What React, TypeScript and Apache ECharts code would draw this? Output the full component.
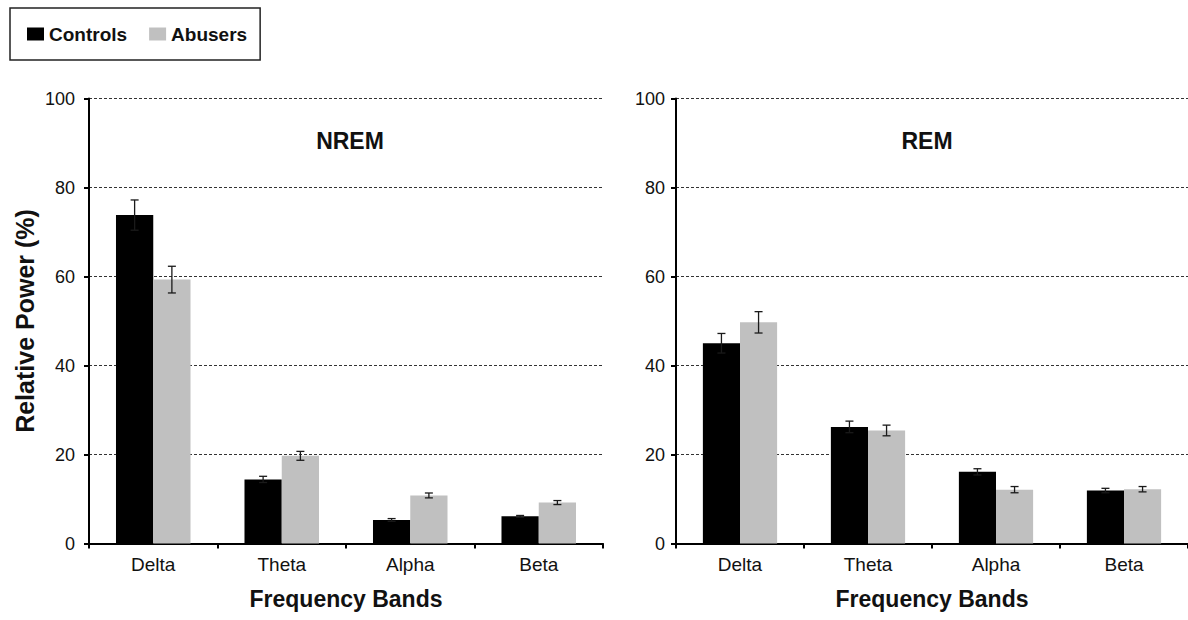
import React, { useEffect, useRef } from "react";
import * as echarts from "echarts";

const categories = ["Delta", "Theta", "Alpha", "Beta"];
const seriesNames = ["Controls", "Abusers"];

const nremControls = [73.8, 14.4, 5.3, 6.1];
const nremControlsErr = [3.4, 0.7, 0.3, 0.2];
const nremAbusers = [59.3, 19.7, 10.8, 9.2];
const nremAbusersErr = [3.0, 1.0, 0.55, 0.45];

const remControls = [45.0, 26.2, 16.1, 11.9];
const remControlsErr = [2.2, 1.3, 0.7, 0.5];
const remAbusers = [49.7, 25.4, 12.1, 12.2];
const remAbusersErr = [2.4, 1.2, 0.7, 0.6];

const panelTitles = ["NREM", "REM"];
const xAxisTitle = "Frequency Bands";
const yAxisTitle = "Relative Power (%)";
const yMin = 0;
const yMax = 100;
const yInterval = 20;

const BAR_FRAC = 0.29;
const COLORS = ["#000000", "#c0c0c0"];
const FONT = "'Liberation Sans', Arial, sans-serif";

function errData(vals: number[], errs: number[]) {
  return vals.map((v, i) => [i, v, errs[i]]);
}

function makeErrSeries(name: string, idx: number, vals: number[], errs: number[], side: number) {
  return {
    type: "custom",
    name: name + " SE",
    xAxisIndex: idx,
    yAxisIndex: idx,
    z: 10,
    silent: true,
    encode: { x: 0, y: 1 },
    data: errData(vals, errs),
    renderItem: (params: any, api: any) => {
      const c = api.value(0);
      const v = api.value(1);
      const e = api.value(2);
      const band = api.size([1, 0])[0];
      const off = side * (BAR_FRAC / 2) * band;
      const top = api.coord([c, v + e]);
      const bot = api.coord([c, v - e]);
      const x = top[0] + off;
      const cap = 4;
      const style = { stroke: "#1a1a1a", lineWidth: 1.3 };
      return {
        type: "group",
        children: [
          { type: "line", shape: { x1: x, y1: top[1], x2: x, y2: bot[1] }, style },
          { type: "line", shape: { x1: x - cap, y1: top[1], x2: x + cap, y2: top[1] }, style },
          { type: "line", shape: { x1: x - cap, y1: bot[1], x2: x + cap, y2: bot[1] }, style },
        ],
      };
    },
  };
}

function xAxisFor(idx: number) {
  return {
    type: "category",
    gridIndex: idx,
    data: categories,
    axisLine: { show: true, lineStyle: { color: "#000", width: 2 } },
    axisTick: { show: true, length: 5, lineStyle: { color: "#000", width: 2 } },
    axisLabel: { color: "#111", fontSize: 19, fontFamily: FONT, margin: 11 },
    name: xAxisTitle,
    nameLocation: "middle",
    nameGap: 44,
    nameTextStyle: { color: "#111", fontSize: 23, fontWeight: "bold", fontFamily: FONT },
  };
}

function yAxisFor(idx: number) {
  return {
    type: "value",
    gridIndex: idx,
    min: yMin,
    max: yMax,
    interval: yInterval,
    axisLine: { show: true, lineStyle: { color: "#000", width: 2 } },
    axisTick: { show: true, length: 5, lineStyle: { color: "#000", width: 2 } },
    axisLabel: { color: "#111", fontSize: 18, fontFamily: FONT, margin: idx === 0 ? 14 : 11 },
    splitLine: { show: true, lineStyle: { color: "#333", width: 1, type: [3, 2] } },
    name: idx === 0 ? yAxisTitle : "",
    nameLocation: "middle",
    nameRotate: 90,
    nameGap: 52,
    nameTextStyle: { color: "#111", fontSize: 25, fontWeight: "bold", fontFamily: FONT },
  };
}

function barSeries(name: string, idx: number, vals: number[], color: string) {
  return {
    type: "bar",
    name,
    xAxisIndex: idx,
    yAxisIndex: idx,
    data: vals,
    barWidth: BAR_FRAC * 100 + "%",
    barGap: "0%",
    itemStyle: { color },
    z: 5,
  };
}

function titleText(text: string, cx: number) {
  return {
    type: "text",
    x: cx,
    y: 141,
    style: {
      text,
      fontSize: 23,
      fontWeight: "bold",
      fontFamily: FONT,
      fill: "#111",
      align: "center",
      verticalAlign: "middle",
      textAlign: "center",
      textVerticalAlign: "middle",
    },
  };
}

export default function App() {
  const ref = useRef<HTMLDivElement>(null);
  useEffect(() => {
    if (!ref.current) return;
    const chart = echarts.init(ref.current, null, { renderer: "svg" });
    const option: any = {
      animation: false,
      backgroundColor: "#ffffff",
      legend: {
        data: seriesNames,
        left: 10,
        top: 8,
        orient: "horizontal",
        itemWidth: 17,
        itemHeight: 13,
        itemGap: 22,
        padding: [16, 13, 16, 17],
        borderColor: "#222",
        borderWidth: 1.5,
        borderRadius: 0,
        icon: "rect",
        selectedMode: false,
        textStyle: { color: "#111", fontSize: 19, fontWeight: "bold", fontFamily: FONT, lineHeight: 20 },
      },
      graphic: [titleText(panelTitles[0], 350), titleText(panelTitles[1], 927)],
      grid: [
        { left: 89, top: 98.5, width: 514, height: 445 },
        { left: 676, top: 98.5, width: 512, height: 445 },
      ],
      xAxis: [xAxisFor(0), xAxisFor(1)],
      yAxis: [yAxisFor(0), yAxisFor(1)],
      series: [
        barSeries(seriesNames[0], 0, nremControls, COLORS[0]),
        barSeries(seriesNames[1], 0, nremAbusers, COLORS[1]),
        barSeries(seriesNames[0], 1, remControls, COLORS[0]),
        barSeries(seriesNames[1], 1, remAbusers, COLORS[1]),
        makeErrSeries(seriesNames[0], 0, nremControls, nremControlsErr, -1),
        makeErrSeries(seriesNames[1], 0, nremAbusers, nremAbusersErr, 1),
        makeErrSeries(seriesNames[0], 1, remControls, remControlsErr, -1),
        makeErrSeries(seriesNames[1], 1, remAbusers, remAbusersErr, 1),
      ],
    };
    chart.setOption(option);
    return () => chart.dispose();
  }, []);
  return (
    <div
      ref={ref}
      style={{ position: "absolute", left: 0, top: 0, width: 1188, height: 620, background: "#fff" }}
    />
  );
}
